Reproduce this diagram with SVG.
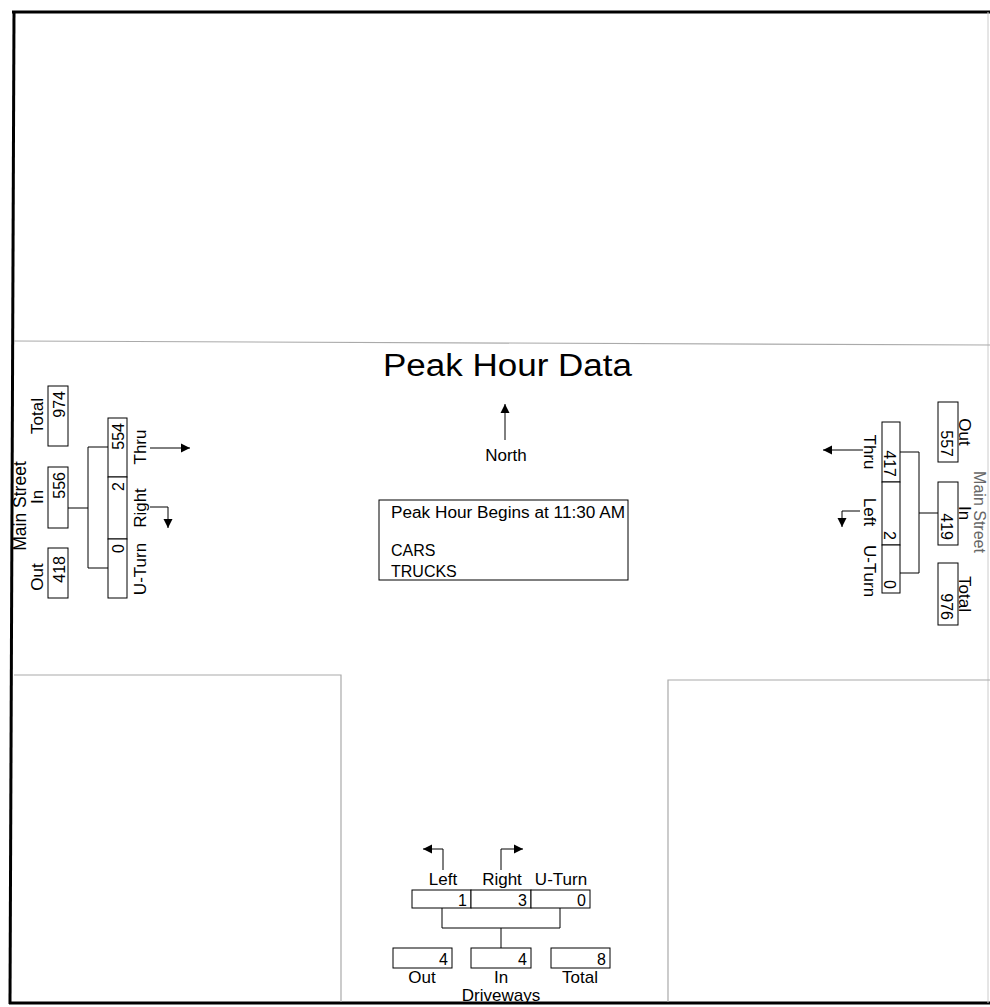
<svg xmlns="http://www.w3.org/2000/svg" width="990" height="1007" viewBox="0 0 990 1007">
<style>
text{font-family:"Liberation Sans",Arial,sans-serif;fill:#000}
.lbl{font-size:17px}
.num{font-size:16px}
.box{fill:#fff;stroke:#000;stroke-width:1}
.ln{fill:none;stroke:#000;stroke-width:1}
.road{fill:none;stroke:#aaa;stroke-width:1.2}
.frame{fill:none;stroke:#000;stroke-width:3}
</style>
<defs>
<marker id="ah" viewBox="0 0 10 10" refX="10" refY="5" markerWidth="9" markerHeight="10" markerUnits="userSpaceOnUse" orient="auto">
<path d="M0,0 L10,5 L0,10 z" fill="#000"/>
</marker>
</defs>
<rect width="990" height="1007" fill="#fff"/>
<g id="frame">
<line class="frame" x1="12" y1="12" x2="990" y2="12"/>
<line class="frame" x1="14" y1="11" x2="10" y2="1004"/>
<line class="frame" x1="9" y1="1003" x2="990" y2="1003"/>
<line x1="988" y1="12" x2="988" y2="1003" stroke="#ccc" stroke-width="1"/>
</g>
<g id="roads">
<line class="road" x1="14" y1="341" x2="990" y2="345"/>
<path class="road" d="M14,675 H341 V1002"/>
<path class="road" d="M668,1002 V680 H990"/>
</g>
<g id="title">
<text x="383" y="376" font-size="31" textLength="249" lengthAdjust="spacingAndGlyphs">Peak Hour Data</text>
</g>
<g id="north">
<text x="506" y="461" font-size="17" text-anchor="middle">North</text>
</g>
<g id="info">
<rect class="box" x="379" y="500" width="249" height="80"/>
<text x="391" y="518" font-size="16" textLength="234" lengthAdjust="spacingAndGlyphs">Peak Hour Begins at 11:30 AM</text>
<text x="391" y="556" font-size="16">CARS</text>
<text x="391" y="577" font-size="16">TRUCKS</text>
</g>
<g id="west">
<text transform="translate(26,506) rotate(-90)" text-anchor="middle" font-size="17.5">Main Street</text>
<text class="lbl" transform="translate(43,416) rotate(-90)" text-anchor="middle">Total</text>
<text class="lbl" transform="translate(43,497) rotate(-90)" text-anchor="middle">In</text>
<text class="lbl" transform="translate(43,577) rotate(-90)" text-anchor="middle">Out</text>
<rect class="box" x="48" y="386" width="20" height="60"/>
<rect class="box" x="48" y="467" width="20" height="61"/>
<rect class="box" x="48" y="548" width="20" height="50"/>
<text class="num" transform="translate(65,391) rotate(-90)" text-anchor="end">974</text>
<text class="num" transform="translate(65,472) rotate(-90)" text-anchor="end">556</text>
<text class="num" transform="translate(65,556) rotate(-90)" text-anchor="end">418</text>
<rect class="box" x="108" y="418" width="19" height="59"/>
<rect class="box" x="108" y="477" width="19" height="62"/>
<rect class="box" x="108" y="539" width="19" height="59"/>
<text class="num" transform="translate(124,423) rotate(-90)" text-anchor="end">554</text>
<text class="num" transform="translate(124,482) rotate(-90)" text-anchor="end">2</text>
<text class="num" transform="translate(124,544) rotate(-90)" text-anchor="end">0</text>
<text class="lbl" transform="translate(146,447) rotate(-90)" text-anchor="middle">Thru</text>
<text class="lbl" transform="translate(146,508) rotate(-90)" text-anchor="middle">Right</text>
<text class="lbl" transform="translate(146,569) rotate(-90)" text-anchor="middle">U-Turn</text>
</g>
<g id="east">
<text transform="translate(974,512) rotate(90)" text-anchor="middle" font-size="16" style="fill:#666">Main Street</text>
<rect class="box" x="938" y="402" width="20" height="60"/>
<rect class="box" x="938" y="482" width="20" height="63"/>
<rect class="box" x="938" y="563" width="20" height="62"/>
<text class="lbl" transform="translate(959,432) rotate(90)" text-anchor="middle">Out</text>
<text class="lbl" transform="translate(959,513) rotate(90)" text-anchor="middle">In</text>
<text class="lbl" transform="translate(959,594) rotate(90)" text-anchor="middle">Total</text>
<text class="num" transform="translate(941,457) rotate(90)" text-anchor="end">557</text>
<text class="num" transform="translate(941,540) rotate(90)" text-anchor="end">419</text>
<text class="num" transform="translate(941,620) rotate(90)" text-anchor="end">976</text>
<rect class="box" x="882" y="422" width="18" height="60"/>
<rect class="box" x="882" y="482" width="18" height="63"/>
<rect class="box" x="882" y="545" width="18" height="48"/>
<text class="num" transform="translate(884,477) rotate(90)" text-anchor="end">417</text>
<text class="num" transform="translate(884,540) rotate(90)" text-anchor="end">2</text>
<text class="num" transform="translate(884,589) rotate(90)" text-anchor="end">0</text>
<text class="lbl" transform="translate(864,452) rotate(90)" text-anchor="middle">Thru</text>
<text class="lbl" transform="translate(864,512) rotate(90)" text-anchor="middle">Left</text>
<text class="lbl" transform="translate(864,571) rotate(90)" text-anchor="middle">U-Turn</text>
</g>
<g id="south">
<rect class="box" x="412" y="890" width="59" height="18"/>
<rect class="box" x="471" y="890" width="60" height="18"/>
<rect class="box" x="531" y="890" width="59" height="18"/>
<text class="num" x="467" y="906" text-anchor="end">1</text>
<text class="num" x="527" y="906" text-anchor="end">3</text>
<text class="num" x="586" y="906" text-anchor="end">0</text>
<text class="lbl" x="443" y="885" text-anchor="middle">Left</text>
<text class="lbl" x="502" y="885" text-anchor="middle">Right</text>
<text class="lbl" x="561" y="885" text-anchor="middle">U-Turn</text>
<rect class="box" x="393" y="948" width="59" height="20"/>
<rect class="box" x="471" y="948" width="60" height="20"/>
<rect class="box" x="551" y="948" width="59" height="20"/>
<text class="num" x="448" y="965" text-anchor="end">4</text>
<text class="num" x="527" y="965" text-anchor="end">4</text>
<text class="num" x="606" y="965" text-anchor="end">8</text>
<text class="lbl" x="422" y="983" text-anchor="middle">Out</text>
<text class="lbl" x="501" y="983" text-anchor="middle">In</text>
<text class="lbl" x="580" y="983" text-anchor="middle">Total</text>
<text class="lbl" x="501" y="1001" text-anchor="middle">Driveways</text>
</g>
<g id="connectors">
<line class="ln" x1="505" y1="440" x2="505" y2="404" marker-end="url(#ah)"/>
<path class="ln" d="M68,508 H88 M88,447 V568 M88,447 H108 M88,568 H108"/>
<line class="ln" x1="150" y1="448" x2="190" y2="448" marker-end="url(#ah)"/>
<path class="ln" d="M150,507 H168 V528" marker-end="url(#ah)"/>
<path class="ln" d="M938,513 H919 M919,452 V573 M919,452 H900 M919,573 H900"/>
<line class="ln" x1="863" y1="450" x2="823" y2="450" marker-end="url(#ah)"/>
<path class="ln" d="M860,511 H842 V527" marker-end="url(#ah)"/>
<path class="ln" d="M442,908 V928 H560 V908 M501,928 V948"/>
<path class="ln" d="M443,870 V849 H423" marker-end="url(#ah)"/>
<path class="ln" d="M501,870 V849 H523" marker-end="url(#ah)"/>
</g>
</svg>
